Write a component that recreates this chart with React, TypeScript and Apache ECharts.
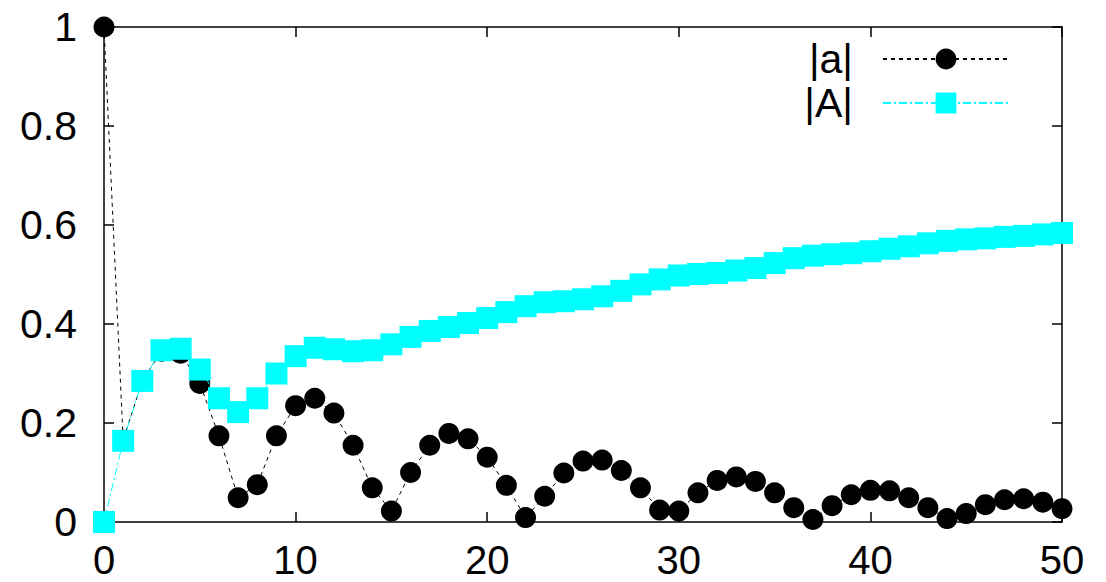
import React, { useEffect, useRef } from "react";
import * as echarts from "echarts";

const seriesNames = ["|a|", "|A|"];
const xTicks = [0, 10, 20, 30, 40, 50];
const yTicks = [0, 0.2, 0.4, 0.6, 0.8, 1];

const aValues = [
  1.0, 0.165, 0.285, 0.345, 0.341, 0.28, 0.174, 0.049, 0.0755, 0.174, 0.235,
  0.25, 0.22, 0.155, 0.069, 0.022, 0.1, 0.155, 0.179, 0.168, 0.131,
  0.074, 0.009, 0.052, 0.099, 0.123, 0.125, 0.104, 0.069, 0.024, 0.022,
  0.059, 0.084, 0.091, 0.082, 0.059, 0.029, 0.005, 0.033, 0.055, 0.064,
  0.063, 0.049, 0.029, 0.007, 0.017, 0.035, 0.045, 0.047, 0.04, 0.027,
];

const AValues = [
  0, 0.164, 0.285, 0.347, 0.35, 0.308, 0.25, 0.222, 0.25, 0.3, 0.335,
  0.352, 0.349, 0.345, 0.347, 0.359, 0.374, 0.386, 0.394, 0.402, 0.412,
  0.424, 0.436, 0.444, 0.446, 0.45, 0.456, 0.467, 0.48, 0.49, 0.498,
  0.501, 0.503, 0.508, 0.513, 0.523, 0.533, 0.538, 0.541, 0.543, 0.547,
  0.552, 0.557, 0.563, 0.568, 0.571, 0.573, 0.576, 0.578, 0.581, 0.584,
];

const FONT = "'Liberation Sans', Arial, Helvetica, sans-serif";

export default function App() {
  const ref = useRef<HTMLDivElement>(null);

  useEffect(() => {
    if (!ref.current) return;
    const chart = echarts.init(ref.current, null, { renderer: "svg" });
    const xMin = xTicks[0];
    const xMax = xTicks[xTicks.length - 1];
    const xInt = xTicks[1] - xTicks[0];
    const yMin = yTicks[0];
    const yMax = yTicks[yTicks.length - 1];
    const yInt = yTicks[1] - yTicks[0];

    const axisLine = { show: true, onZero: false, lineStyle: { color: "#000", width: 1.5 } };
    const axisTick = { show: true, inside: true, length: 10, lineStyle: { color: "#000", width: 1.5 } };

    chart.setOption({
      animation: false,
      backgroundColor: "#fff",
      grid: { left: 104, right: 44, top: 27, bottom: 60, containLabel: false },
      legend: {
        right: 96,
        top: 37,
        orient: "vertical",
        align: "right",
        padding: 0,
        itemWidth: 126,
        itemHeight: 26,
        itemGap: 0,
        selectedMode: false,
        textStyle: {
          fontFamily: FONT,
          fontSize: 41,
          color: "#000",
          lineHeight: 44,
          padding: [0, 25, 0, 0],
        },
        data: seriesNames,
      },
      xAxis: [
        {
          type: "value",
          min: xMin,
          max: xMax,
          interval: xInt,
          axisLine,
          axisTick,
          splitLine: { show: false },
          axisLabel: { fontFamily: FONT, fontSize: 40, lineHeight: 34, color: "#000", margin: 21 },
        },
        {
          type: "value",
          position: "top",
          min: xMin,
          max: xMax,
          interval: xInt,
          axisLine,
          axisTick,
          splitLine: { show: false },
          axisLabel: { show: false },
        },
      ],
      yAxis: [
        {
          type: "value",
          min: yMin,
          max: yMax,
          interval: yInt,
          axisLine,
          axisTick,
          splitLine: { show: false },
          axisLabel: { fontFamily: FONT, fontSize: 41, color: "#000", margin: 27 },
        },
        {
          type: "value",
          position: "right",
          min: yMin,
          max: yMax,
          interval: yInt,
          axisLine,
          axisTick,
          splitLine: { show: false },
          axisLabel: { show: false },
        },
      ],
      series: [
        {
          name: seriesNames[0],
          type: "line",
          clip: false,
          data: aValues.map((v, i) => [i, v]),
          symbol: "circle",
          symbolSize: 21,
          itemStyle: { color: "#000" },
          lineStyle: { color: "#000", width: 1, type: [4, 4] },
          z: 2,
        },
        {
          name: seriesNames[1],
          type: "line",
          clip: false,
          data: AValues.map((v, i) => [i, v]),
          symbol: "rect",
          symbolSize: 22,
          itemStyle: { color: "#00ffff" },
          lineStyle: { color: "#00ffff", width: 1, type: [8, 3, 2, 3] },
          z: 3,
        },
      ],
    });
    return () => chart.dispose();
  }, []);

  return (
    <div
      ref={ref}
      style={{ position: "fixed", left: 0, top: 0, width: 1106, height: 582, background: "#fff" }}
    />
  );
}
